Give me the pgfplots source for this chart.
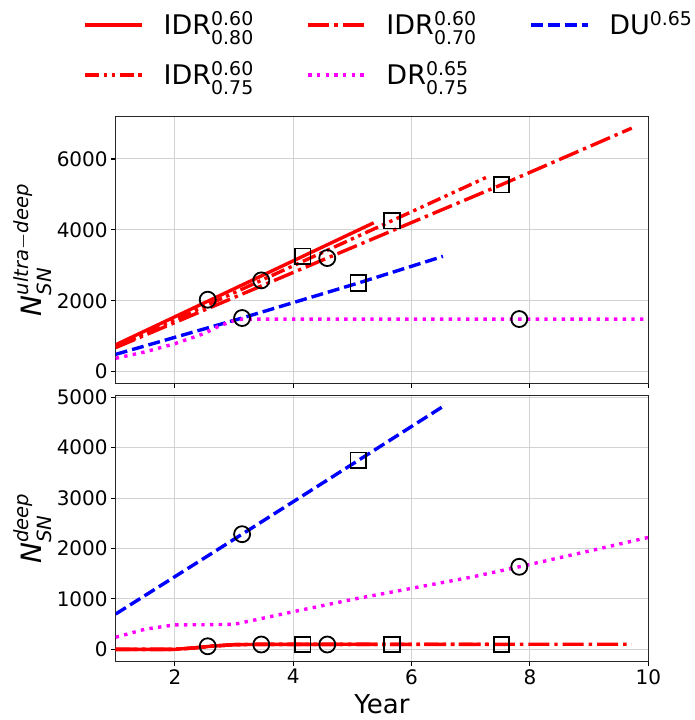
\documentclass[border=0pt]{standalone}
\usepackage{amsmath}
\usepackage{fontspec}
\setmainfont{DejaVu Sans}
\usepackage{pgfplots}
\pgfplotsset{compat=1.18}

\definecolor{mpred}{RGB}{255,0,0}
\definecolor{mpblue}{RGB}{0,0,255}
\definecolor{mpmag}{RGB}{255,0,255}

\pgfplotsset{
  common/.style={
    scale only axis, width=532.6pt,
    xmin=1, xmax=10, xtick={2,4,6,8,10},
    grid=major, major grid style={gray!35, line width=1pt},
    axis line style={black!85, line width=1.2pt},
    tick align=outside, major tick length=4.5pt,
    tick style={black, line width=1.1pt},
    tick pos=left,
    every tick label/.append style={font=\fontsize{20}{24}\selectfont},
    /pgf/number format/assume math mode=true,
    /pgf/number format/1000 sep={},
    scaled ticks=false,
    ylabel style={font=\fontsize{28}{33}\selectfont, at={(axis description cs:-0.1196,0.5)}, anchor=south, inner sep=0pt},
  },
  lsolid/.style={mpred, line width=3.4pt},
  ldashdot/.style={mpred, line width=3.4pt, dash pattern=on 21pt off 5pt on 3.4pt off 5pt},
  ldashdotdot/.style={mpred, line width=3.4pt, dash pattern=on 14pt off 4.5pt on 3.4pt off 4.5pt on 3.4pt off 4.5pt},
  ldashed/.style={mpblue, line width=3.4pt, dash pattern=on 12pt off 5pt},
  ldotted/.style={mpmag, line width=3.4pt, dash pattern=on 3.4pt off 5.3pt},
  circ/.style={only marks, mark=o, mark size=8pt, black, line width=1.8pt, mark options={solid}, forget plot},
  sq/.style={only marks, mark=square, mark size=7.8pt, black, line width=1.8pt, mark options={solid}, forget plot},
}

\newcommand{\lt}[1]{\makebox[95pt][l]{#1}}

\begin{document}
\begin{tikzpicture}
% ---------------- top axis ----------------
\begin{axis}[common,
  at={(115.7pt,336.7pt)}, anchor=south west, height=266.6pt,
  ymin=-327, ymax=7193, ytick={0,2000,4000,6000},
  xticklabels={},
  ylabel={$\textit{N}^{\textit{ultra}-\textit{deep}}_{\textit{SN}}$},
  legend columns=3,
  legend cell align=left,
  legend image code/.code={\path (0pt,0pt); \draw[#1] (0pt,1pt) -- (57pt,1pt);},
  legend style={draw=none, fill=none, inner sep=0pt, outer sep=0pt,
    at={(axis description cs:-0.0601,1.404)}, anchor=north west,
    font=\fontsize{27}{32}\selectfont,
    nodes={inner sep=0pt, text height=26pt, text depth=8pt},
    row sep=16pt,
    /tikz/every odd column/.append style={column sep=19.6pt},
    /tikz/every even column/.append style={column sep=47.8pt}},
]
\addplot[lsolid] coordinates {(1,760) (5.36,4200)};
\addlegendentry{\lt{IDR$^{\text{0.60}}_{\text{0.80}}$}}
\addplot[ldashdot] coordinates {(1,680) (4.575,3206) (7.52,5275) (9.72,6870)};
\addlegendentry{\lt{IDR$^{\text{0.60}}_{\text{0.70}}$}}
\addplot[ldashed] coordinates {(1,490) (3.136,1514) (5.10,2501) (6.53,3253)};
\addlegendentry{DU$^{\text{0.65}}$}
\addplot[ldashdotdot] coordinates {(1,700) (3.46,2576) (5.67,4260) (7.30,5510)};
\addlegendentry{\lt{IDR$^{\text{0.60}}_{\text{0.75}}$}}
\addplot[ldotted] coordinates {(1,378) (1.5,560) (2,790) (2.5,1080) (2.75,1290) (3.0,1440) (3.15,1485) (10,1485)};
\addlegendentry{\lt{DR$^{\text{0.65}}_{\text{0.75}}$}}
\addplot[circ] coordinates {(2.555,2031) (3.46,2576) (4.575,3206) (3.136,1514) (7.82,1485)};
\addplot[sq] coordinates {(4.16,3253) (5.67,4260) (7.52,5275) (5.10,2501)};
\end{axis}
% ---------------- bottom axis ----------------
\begin{axis}[common,
  at={(115.7pt,58.7pt)}, anchor=south west, height=266pt,
  ymin=-238, ymax=5040, ytick={0,1000,2000,3000,4000,5000},
  ylabel={$\textit{N}^{\textit{deep}}_{\textit{SN}}$},
  xlabel={Year},
  xlabel style={font=\fontsize{26}{31}\selectfont, at={(axis description cs:0.5,-0.1229)}, anchor=north, inner sep=0pt},
]
\addplot[lsolid] coordinates {(1,0) (2,0) (2.3,25) (2.6,60) (3,92) (3.5,98) (5.36,100)};
\addplot[ldashdot] coordinates {(1,0) (2,0) (2.3,25) (2.6,60) (3,92) (3.5,98) (9.72,100)};
\addplot[ldashed] coordinates {(1,700) (3.136,2284) (5.10,3749) (6.53,4818)};
\addplot[ldashdotdot] coordinates {(1,0) (2,0) (2.3,25) (2.6,60) (3,92) (3.5,98) (7.30,100)};
\addplot[ldotted] coordinates {(1,240) (1.5,400) (2,485) (2.5,488) (3,495) (3.5,620) (4,746) (5,990) (6,1210) (7,1430) (7.82,1637) (9,1950) (10,2220)};
\addplot[circ] coordinates {(2.555,60) (3.46,95) (4.575,95) (3.136,2284) (7.82,1637)};
\addplot[sq] coordinates {(4.16,95) (5.67,95) (7.52,95) (5.10,3749)};
\end{axis}
\pgfresetboundingbox
\path[use as bounding box] (0pt,0pt) rectangle (695pt,720pt);
\end{tikzpicture}
\end{document}
